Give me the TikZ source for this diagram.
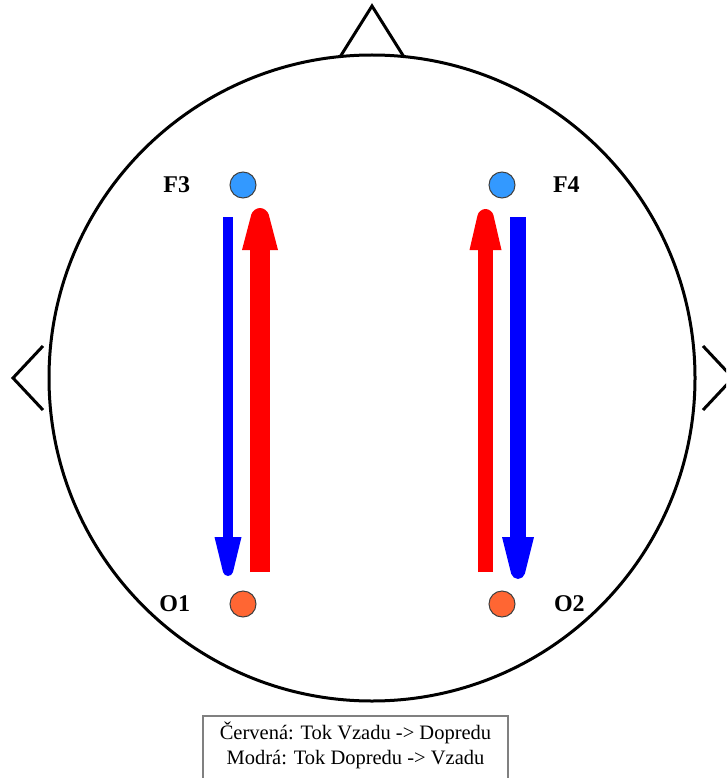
\documentclass[tikz,border=0pt]{standalone}
\usepackage{fontspec}
\setmainfont{Liberation Serif}
\usetikzlibrary{positioning}
\definecolor{elblue}{RGB}{51,153,255}
\definecolor{elorange}{RGB}{255,102,51}
\definecolor{legendgray}{RGB}{128,128,128}
\definecolor{flowred}{RGB}{255,0,0}
\definecolor{flowblue}{RGB}{0,0,255}
% #1 colour, #2 base of the head, #3 half width, #4 top half width, #5 length
\newcommand{\flowtip}[5]{%
  \fill[#1] ([xshift=-#3]#2) [rounded corners=#4] -- ([xshift=-#4,yshift=#5]#2)
    -- ([xshift=#4,yshift=#5]#2) [sharp corners] -- ([xshift=#3]#2) -- cycle;}

\begin{document}
\begin{tikzpicture}[x=1pt,y=-1pt,line width=3pt,
  elec/.style={circle,draw=black!75,line width=1pt,minimum size=26pt,inner sep=0pt},
  lbl/.style={font=\fontsize{24}{28}\selectfont\bfseries,inner sep=0pt},
  legend/.style={draw=legendgray,line width=1.5pt,align=center,anchor=north,
    minimum width=305pt,inner ysep=6pt,text depth=40pt,
    font=\fontsize{20.5}{25}\selectfont}]
  \useasboundingbox (0,0) rectangle (726,778);
  \clip (0,0) rectangle (726,778);
  \coordinate (C) at (372,378);
  \draw (C) circle (323pt);
  % nose and ears
  \draw (340,57) -- (372,6) -- (404,57);
  \draw (43,346) -- (13,378) -- (43,410);
  \draw (703,346) -- (733,378) -- (703,410);
  % electrodes
  \node[elec,fill=elblue] (F3) at (243,185) {};
  \node[elec,fill=elblue] (F4) at (502,185) {};
  \node[elec,fill=elorange] (O1) at (243,604) {};
  \node[elec,fill=elorange] (O2) at (502,604) {};
  \node[lbl,left=38pt of F3] (F3l) {F3};
  \node[lbl,right=36pt of F4] (F4l) {F4};
  \node[lbl,left=38pt of O1] (O1l) {O1};
  \node[lbl,right=37pt of O2] (O2l) {O2};
  % flows
  \coordinate (b1) at ([xshift=-15pt,yshift=67pt]O1.center);
  \coordinate (r1) at ([xshift=17pt,yshift=-65pt]F3.center);
  \coordinate (r2) at ([xshift=-16.5pt,yshift=-65pt]F4.center);
  \coordinate (b2) at ([xshift=16pt,yshift=67pt]O2.center);
  \draw[flowblue,line width=10pt] ([xshift=-15pt,yshift=-32pt]F3.center) -- (b1);
  \flowtip{flowblue}{b1}{13.5pt}{4pt}{-39pt}
  \draw[flowred,line width=20pt] ([xshift=17pt,yshift=32pt]O1.center) -- (r1);
  \flowtip{flowred}{r1}{18pt}{7pt}{42pt}
  \draw[flowred,line width=15pt] ([xshift=-16.5pt,yshift=32pt]O2.center) -- (r2);
  \flowtip{flowred}{r2}{16pt}{6.5pt}{41pt}
  \draw[flowblue,line width=16pt] ([xshift=16pt,yshift=-32pt]F4.center) -- (b2);
  \flowtip{flowblue}{b2}{16pt}{5.5pt}{-42pt}
  % legend
  \node[legend] (legend) at (355.5,715)
    {Červená: Tok Vzadu -> Dopredu\\Modrá: Tok Dopredu -> Vzadu};
\end{tikzpicture}
\end{document}
